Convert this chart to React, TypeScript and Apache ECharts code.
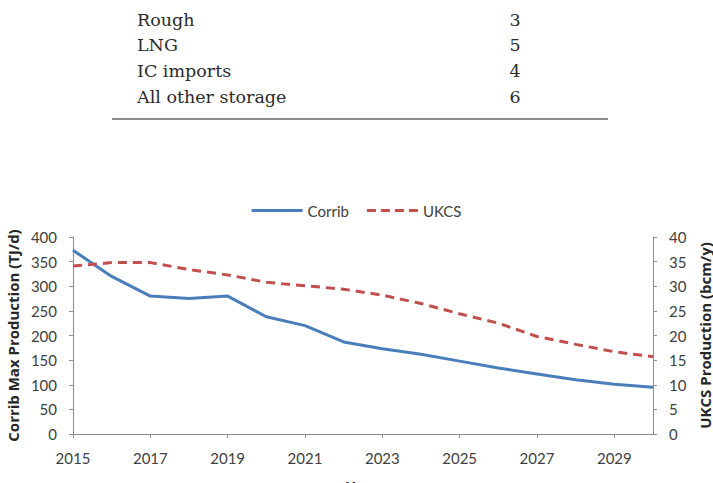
import React, { useEffect, useRef } from "react";
import * as echarts from "echarts";

// Forecast years
const years = [
  "2015", "2016", "2017", "2018", "2019", "2020", "2021", "2022",
  "2023", "2024", "2025", "2026", "2027", "2028", "2029", "2030",
];

// Corrib maximum production (TJ/d), left axis
const corrib = [373, 320, 280, 275, 280, 238, 220, 187, 173, 162, 148, 134, 122, 110, 101, 95];

// UKCS production (bcm/y), right axis
const ukcs = [34.1, 34.8, 34.8, 33.4, 32.3, 30.8, 30.1, 29.4, 28.2, 26.5, 24.4, 22.5, 19.8, 18.2, 16.7, 15.7];

// Table rows above the chart
const tableLabels = ["Rough", "LNG", "IC imports", "All other storage"];
const tableValues = ["3", "5", "4", "6"];

const chartFont = "Lato, 'Open Sans', sans-serif";
const titleFont = "'Open Sans', Lato, sans-serif";
const tableFont = "'DejaVu Serif', serif";

const axisGrey = "#8c8c8c";
const textGrey = "#404040";

// Short dashed bar used as the UKCS legend key
const dashIcon = "path://M0,0h9v3h-9z M14,0h9v3h-9z M28,0h9v3h-9z M42,0h9v3h-9z";

export default function App() {
  const ref = useRef<HTMLDivElement>(null);

  useEffect(() => {
    if (!ref.current) return;
    const chart = echarts.init(ref.current, undefined, { renderer: "svg" });

    const tableGraphics: any[] = [];
    tableLabels.forEach((label, i) => {
      const y = 19.5 + i * 25.8;
      tableGraphics.push({
        type: "text",
        x: 137,
        y,
        style: {
          text: label,
          font: `17.5px ${tableFont}`,
          fill: "#2a2a2a",
          textVerticalAlign: "middle",
        },
      });
      tableGraphics.push({
        type: "text",
        x: 515,
        y,
        style: {
          text: tableValues[i],
          font: `17.5px ${tableFont}`,
          fill: "#2a2a2a",
          textAlign: "center",
          textVerticalAlign: "middle",
        },
      });
    });
    tableGraphics.push({
      type: "line",
      shape: { x1: 112, y1: 119, x2: 608, y2: 119 },
      style: { stroke: "#8a8a8a", lineWidth: 2 },
    });

    chart.setOption({
      animation: false,
      backgroundColor: "#ffffff",
      textStyle: { fontFamily: chartFont, color: textGrey },
      graphic: tableGraphics,
      legend: {
        top: 198,
        left: "center",
        itemWidth: 51,
        itemHeight: 3,
        itemGap: 18,
        textStyle: { fontFamily: chartFont, fontSize: 15, color: textGrey },
        data: [
          { name: "Corrib", icon: "rect" },
          { name: "UKCS", icon: dashIcon },
        ],
      },
      grid: { left: 73, right: 60, top: 237, bottom: 49, outerBoundsMode: "none" },
      xAxis: {
        type: "category",
        data: years,
        boundaryGap: false,
        name: "Year",
        nameLocation: "middle",
        nameGap: 44,
        nameTextStyle: { fontFamily: titleFont, fontSize: 15, fontWeight: "bold", color: "#262626" },
        axisLine: { lineStyle: { color: axisGrey } },
        axisTick: { interval: 1, length: 4, lineStyle: { color: axisGrey } },
        axisLabel: { interval: 1, margin: 16, fontSize: 15, color: textGrey },
        splitLine: { show: false },
      },
      yAxis: [
        {
          type: "value",
          min: 0,
          max: 400,
          interval: 50,
          name: "Corrib Max Production (TJ/d)",
          nameLocation: "middle",
          nameGap: 53,
          nameTextStyle: { fontFamily: titleFont, fontSize: 15, fontWeight: "bold", color: "#262626" },
          axisLine: { show: true, lineStyle: { color: axisGrey } },
          axisTick: { show: true, length: 4, lineStyle: { color: axisGrey } },
          axisLabel: { margin: 16, fontSize: 15, color: textGrey },
          splitLine: { show: false },
        },
        {
          type: "value",
          min: 0,
          max: 40,
          interval: 5,
          position: "right",
          name: "UKCS Production (bcm/y)",
          nameLocation: "middle",
          nameGap: 44,
          nameRotate: 90,
          nameTextStyle: { fontFamily: titleFont, fontSize: 15, fontWeight: "bold", color: "#262626" },
          axisLine: { show: true, lineStyle: { color: axisGrey } },
          axisTick: { show: true, length: 4, lineStyle: { color: axisGrey } },
          axisLabel: { margin: 16, fontSize: 15, color: textGrey },
          splitLine: { show: false },
        },
      ],
      series: [
        {
          name: "Corrib",
          type: "line",
          yAxisIndex: 0,
          data: corrib,
          symbol: "none",
          lineStyle: { color: "#4a7ebb", width: 3 },
          itemStyle: { color: "#4a7ebb" },
        },
        {
          name: "UKCS",
          type: "line",
          yAxisIndex: 1,
          data: ukcs,
          symbol: "none",
          lineStyle: { color: "#c0504d", width: 3, type: [9, 6] },
          itemStyle: { color: "#c0504d" },
        },
      ],
    });

    return () => chart.dispose();
  }, []);

  return (
    <div
      ref={ref}
      style={{ position: "absolute", left: 0, top: 0, width: 713, height: 483 }}
    />
  );
}
